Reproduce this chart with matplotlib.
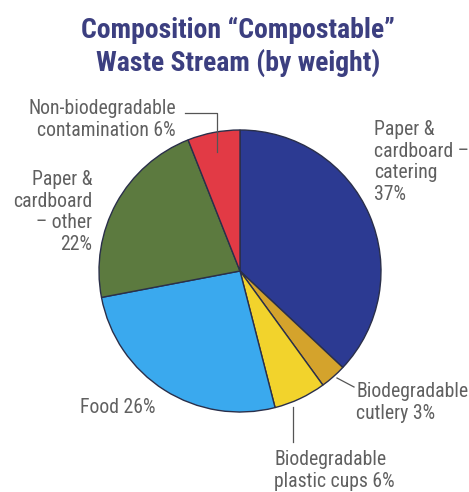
import matplotlib
matplotlib.use("Agg")
import matplotlib.pyplot as plt

categories = ["Paper & cardboard – catering", "Biodegradable cutlery",
              "Biodegradable plastic cups", "Food",
              "Paper & cardboard – other", "Non-biodegradable contamination"]
values = [37, 3, 6, 26, 22, 6]
label_texts = ["Paper &\ncardboard –\ncatering\n37%", "Biodegradable\ncutlery 3%",
               "Biodegradable\nplastic cups 6%", "Food 26%",
               "Paper &\ncardboard\n– other\n22%", "Non-biodegradable\ncontamination 6%"]
colors = ["#2c3a92", "#d4a32c", "#f2d32c", "#3aa9ee", "#5c7a3f", "#e23a45"]

W, H = 469, 492
fig = plt.figure(figsize=(W / 100, H / 100), dpi=100)
fig.patch.set_facecolor("white")
ax = fig.add_axes([0, 0, 1, 1])

fam = ["Roboto Condensed", "DejaVu Sans"]

def py(y):
    return H - y

cx, cy, r = 240, 271, 141
ax.pie(values, colors=colors, startangle=90, counterclock=False,
       center=(cx, py(cy)), radius=r,
       wedgeprops=dict(edgecolor="#2a2f4a", linewidth=1.0))
ax.set_xlim(0, W)
ax.set_ylim(0, H)
ax.set_aspect("equal")
ax.axis("off")

title_color = "#3c3f80"
ax.text(238, py(38), "Composition “Compostable”", ha="center", va="baseline",
        fontsize=20, fontweight="bold", color=title_color, family=fam)
ax.text(238, py(71), "Waste Stream (by weight)", ha="center", va="baseline",
        fontsize=20, fontweight="bold", color=title_color, family=fam)

tc = "#606060"
fs = 14.2
ls = 1.18

# y is the baseline of the last line of each label
def lab(x, y, s, ha):
    ax.text(x, py(y), s, ha=ha, va="baseline", fontsize=fs, color=tc,
            family=fam, linespacing=ls, multialignment=ha)

lab(374, 200, label_texts[0], "left")
lab(356, 419, label_texts[1], "left")
lab(274, 487, label_texts[2], "left")
lab(80, 413, label_texts[3], "left")
lab(92, 250, label_texts[4], "right")
lab(176, 136, label_texts[5], "right")

lc = "#555555"
ax.plot([185, 217, 217], [py(113), py(113), py(152)], color=lc, lw=0.9)
ax.plot([337, 354], [py(378), py(387)], color=lc, lw=0.9)
ax.plot([293, 293], [py(407), py(442)], color=lc, lw=0.9)

fig.savefig("out.png", dpi=100, facecolor="white")
